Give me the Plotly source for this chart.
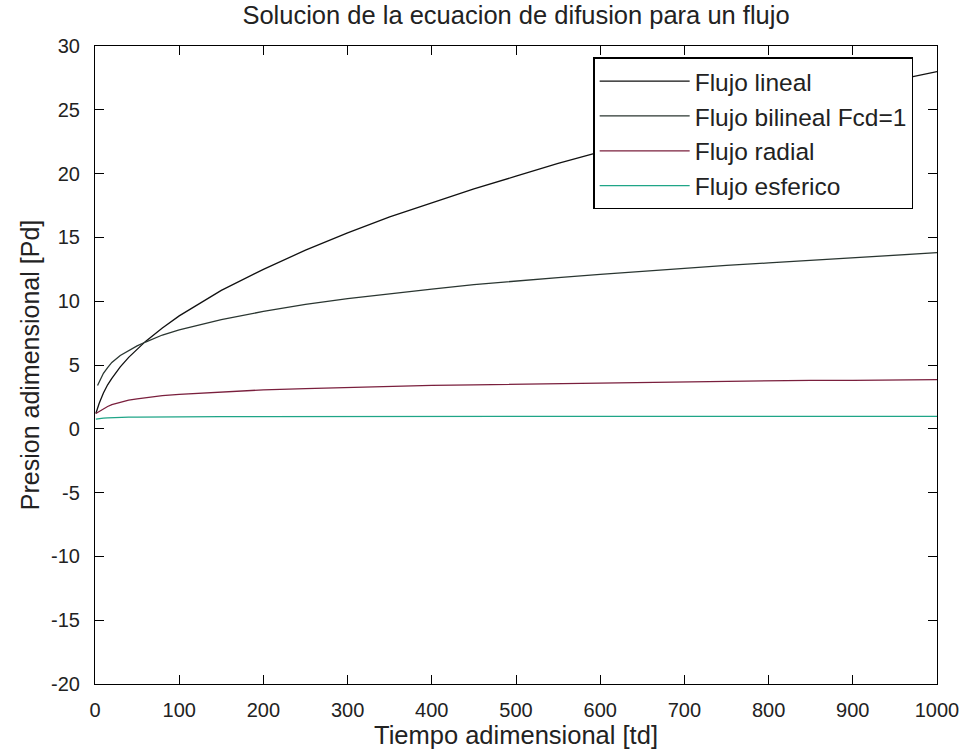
import plotly.graph_objects as go

# Data
td_lineal = [1, 3, 5, 10, 15, 20, 30, 40, 50, 60, 80, 100, 150, 200, 250, 300, 350, 400,
             450, 500, 550, 600, 650, 700, 750, 800, 850, 900, 950, 1000]
pd_lineal = [1.2, 1.6, 2.0, 2.8, 3.45, 3.95, 4.85, 5.6, 6.25, 6.85, 7.9, 8.85, 10.85, 12.5,
             14.0, 15.35, 16.6, 17.7, 18.8, 19.8, 20.8, 21.7, 22.6, 23.45, 24.3, 25.05,
             25.85, 26.6, 27.3, 28.0]

td_bilineal = [3, 5, 10, 15, 20, 30, 40, 50, 60, 80, 100, 150, 200, 250, 300, 350, 400,
               450, 500, 550, 600, 650, 700, 750, 800, 850, 900, 950, 1000]
pd_bilineal = [3.4, 3.7, 4.35, 4.8, 5.2, 5.75, 6.15, 6.5, 6.8, 7.35, 7.75, 8.55, 9.2, 9.75,
               10.2, 10.6, 10.95, 11.3, 11.6, 11.85, 12.1, 12.35, 12.6, 12.8, 13.0, 13.2,
               13.4, 13.6, 13.8]

td_radial = [1, 5, 10, 15, 20, 30, 40, 50, 60, 80, 100, 150, 200, 250, 300, 350, 400,
             450, 500, 550, 600, 650, 700, 750, 800, 850, 900, 950, 1000]
pd_radial = [1.2, 1.35, 1.6, 1.75, 1.9, 2.1, 2.25, 2.35, 2.45, 2.6, 2.7, 2.9, 3.05, 3.15,
             3.25, 3.35, 3.4, 3.45, 3.5, 3.55, 3.6, 3.65, 3.7, 3.7, 3.75, 3.8, 3.8, 3.85, 3.85]

td_esferico = [1, 5, 10, 15, 20, 30, 40, 50, 60, 80, 100, 150, 200, 300, 400, 500, 600,
               700, 800, 900, 1000]
pd_esferico = [0.75, 0.8, 0.84, 0.86, 0.88, 0.9, 0.91, 0.92, 0.93, 0.94, 0.94, 0.95, 0.96,
               0.97, 0.97, 0.97, 0.98, 0.98, 0.98, 0.98, 0.98]

x_ticks = [0, 100, 200, 300, 400, 500, 600, 700, 800, 900, 1000]
y_ticks = [-20, -15, -10, -5, 0, 5, 10, 15, 20, 25, 30]

FONT = "Liberation Sans, Arial, sans-serif"
TXT = "#222222"

fig = go.Figure()
fig.add_trace(go.Scatter(x=td_lineal, y=pd_lineal, mode="lines", name="Flujo lineal",
                         line=dict(color="#111111", width=1.3)))
fig.add_trace(go.Scatter(x=td_bilineal, y=pd_bilineal, mode="lines", name="Flujo bilineal Fcd=1",
                         line=dict(color="#2a3631", width=1.3)))
fig.add_trace(go.Scatter(x=td_radial, y=pd_radial, mode="lines", name="Flujo radial",
                         line=dict(color="#7a1f3d", width=1.3)))
fig.add_trace(go.Scatter(x=td_esferico, y=pd_esferico, mode="lines", name="Flujo esferico",
                         line=dict(color="#1fa587", width=1.3)))

axis_common = dict(
    showline=True, linecolor="black", linewidth=1.2, mirror="allticks",
    ticks="inside", ticklen=9, tickwidth=1.2, tickcolor="black",
    showgrid=False, zeroline=False,
    tickfont=dict(family=FONT, size=20, color=TXT),
)

fig.update_layout(
    width=971, height=755,
    margin=dict(l=95, r=28, t=46, b=71),
    paper_bgcolor="white", plot_bgcolor="white",
    title=dict(text="Solucion de la ecuacion de difusion para un flujo",
               x=0.5, xref="paper", xanchor="center",
               y=1 - 15 / 755, yref="container", yanchor="middle",
               font=dict(family=FONT, size=25.5, color=TXT)),
    xaxis=dict(range=[0, 1000], tickvals=x_ticks, ticktext=[str(v) for v in x_ticks],
               ticklabelstandoff=8,
               title=dict(text="Tiempo adimensional [td]", standoff=3,
                          font=dict(family=FONT, size=25.5, color=TXT)),
               **axis_common),
    yaxis=dict(range=[-20, 30], tickvals=y_ticks, ticktext=[str(v) for v in y_ticks],
               ticklabelstandoff=10,
               title=dict(text="Presion adimensional [Pd]", standoff=4,
                          font=dict(family=FONT, size=25, color=TXT)),
               **axis_common),
    legend=dict(x=0.592, y=0.982, xanchor="left", yanchor="top",
                bgcolor="white", bordercolor="black", borderwidth=1.2,
                font=dict(family=FONT, size=24.5, color=TXT),
                itemwidth=90),
    showlegend=True,
)

fig.write_html("out.html")
